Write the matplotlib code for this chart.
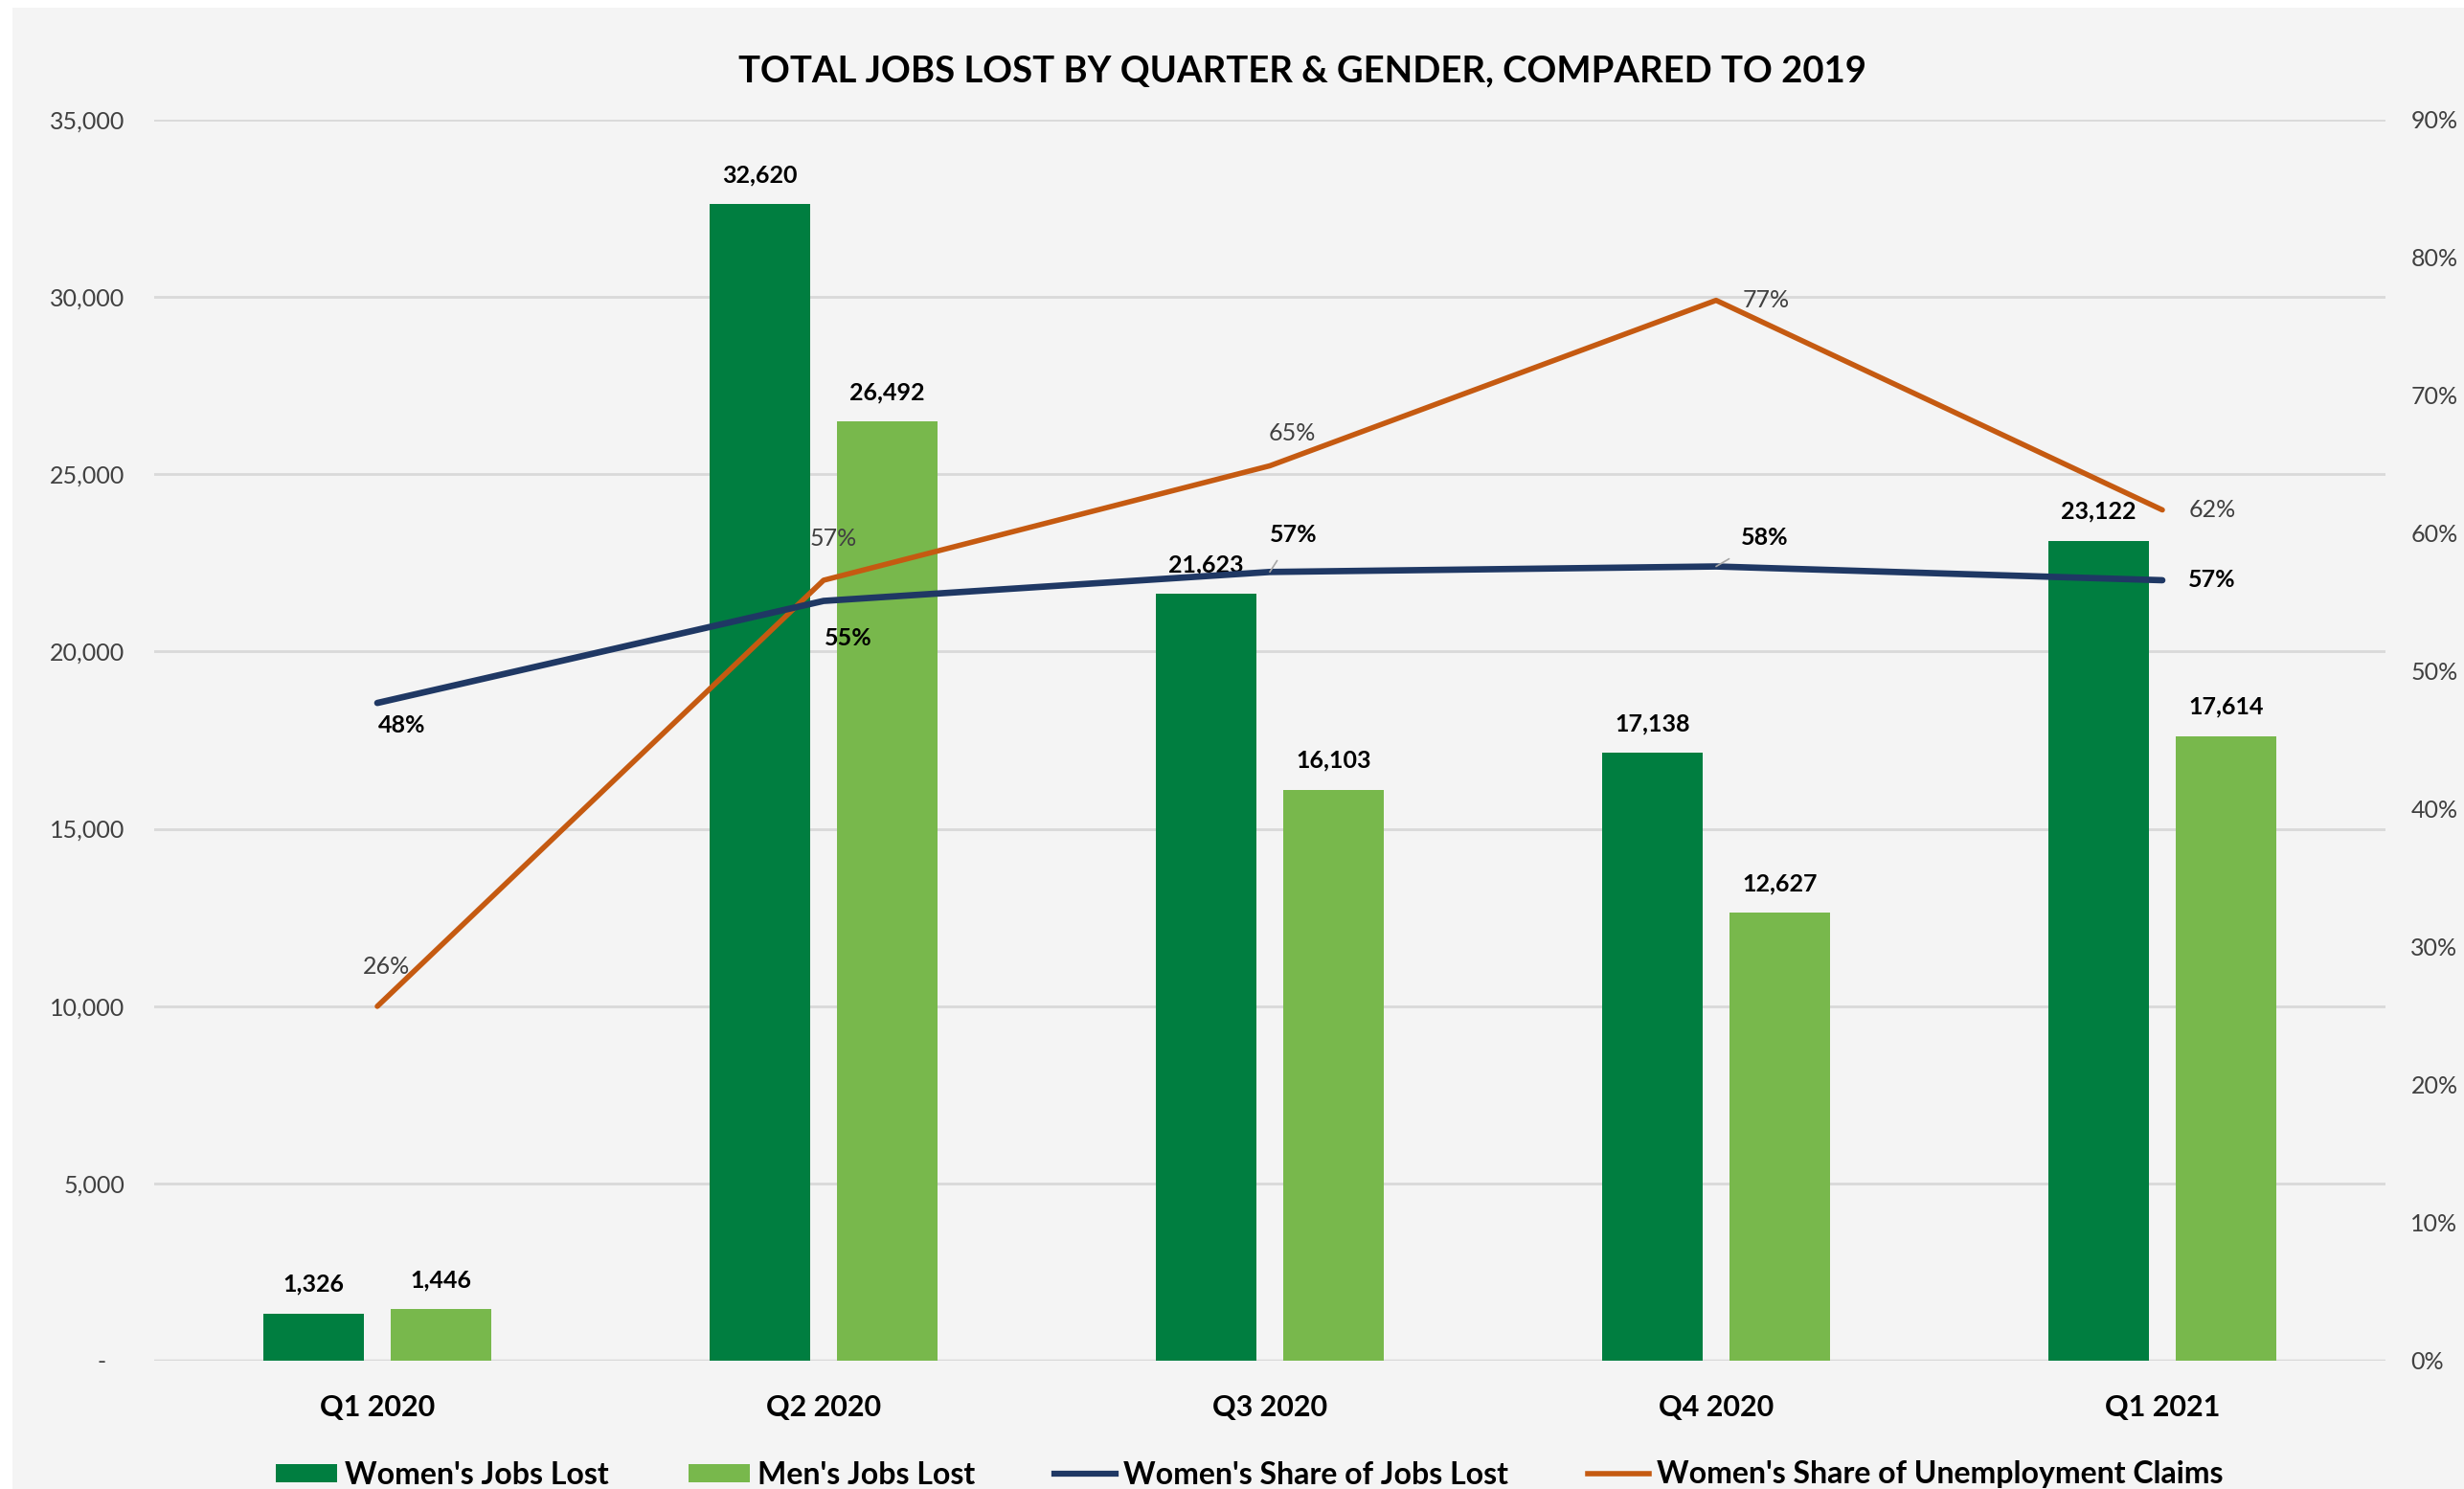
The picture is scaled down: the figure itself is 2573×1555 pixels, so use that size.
import matplotlib
matplotlib.use("Agg")
import matplotlib.pyplot as plt
from matplotlib.patches import Rectangle, Patch
from matplotlib.lines import Line2D
from matplotlib.ticker import FuncFormatter, MultipleLocator
import numpy as np

plt.rcParams['font.family'] = ['Lato', 'DejaVu Sans']

categories = ["Q1 2020", "Q2 2020", "Q3 2020", "Q4 2020", "Q1 2021"]
women_jobs = [1326, 32620, 21623, 17138, 23122]
men_jobs = [1446, 26492, 16103, 12627, 17614]
women_share_jobs = [0.477, 0.551, 0.572, 0.576, 0.566]
women_share_claims = [0.257, 0.566, 0.649, 0.769, 0.617]
title = "TOTAL JOBS LOST BY QUARTER & GENDER, COMPARED TO 2019"

C_DARK = "#007E40"
C_LIGHT = "#78B84C"
C_BLUE = "#1F3864"
C_ORANGE = "#C55A11"
C_BG = "#F4F4F4"
C_GRID = "#D9D9D9"
C_TXT = "#404040"

W, H = 2573, 1555
fig = plt.figure(figsize=(W / 100, H / 100), dpi=100, facecolor="white")
fig.patches.append(Rectangle((13 / W, 0), 1, 1 - 8 / H, transform=fig.transFigure,
                             facecolor=C_BG, edgecolor="none", zorder=-10))

left, right, top, bottom = 161 / W, 2491 / W, 1 - 125 / H, 1 - 1421 / H
ax = fig.add_axes([left, bottom, right - left, top - bottom])
ax.set_facecolor("none")
ax2 = ax.twinx()
ax2.set_facecolor("none")

x = np.arange(len(categories))
bw = 0.225
off = 0.1425
b1 = ax.bar(x - off, women_jobs, bw, color=C_DARK, zorder=2)
b2 = ax.bar(x + off, men_jobs, bw, color=C_LIGHT, zorder=2)

ax.set_xlim(-0.5, len(categories) - 0.5)
ax.set_ylim(0, 35000)
ax.yaxis.set_major_locator(MultipleLocator(5000))
ax.yaxis.set_major_formatter(FuncFormatter(lambda v, p: "-   " if v == 0 else f"{int(v):,}"))
ax.grid(axis="y", color=C_GRID, linewidth=2, zorder=0)
ax.set_axisbelow(True)
for s in ax.spines.values():
    s.set_visible(False)
for s in ax2.spines.values():
    s.set_visible(False)
ax.axhline(0, color=C_GRID, linewidth=2.5, zorder=1)
ax.tick_params(axis="y", length=0, pad=22, labelsize=18, labelcolor=C_TXT)
ax.set_xticks(x)
ax.set_xticklabels(categories, fontsize=22, fontweight="bold", color="black")
ax.tick_params(axis="x", length=0, pad=25)

ax2.set_ylim(0, 0.9)
ax2.yaxis.set_major_locator(MultipleLocator(0.1))
ax2.yaxis.set_major_formatter(FuncFormatter(lambda v, p: f"{v:.0%}"))
ax2.tick_params(axis="y", length=0, pad=19, labelsize=18, labelcolor=C_TXT)

ax2.plot(x, women_share_claims, color=C_ORANGE, linewidth=4, solid_capstyle="round", zorder=3)
ax2.plot(x, women_share_jobs, color=C_BLUE, linewidth=4.8, solid_capstyle="round", zorder=4)

# bar labels
for bars, vals in ((b1, women_jobs), (b2, men_jobs)):
    for rect, v in zip(bars, vals):
        ax.annotate(f"{v:,}", (rect.get_x() + rect.get_width() / 2, v),
                    xytext=(0, 22), textcoords="offset points", ha="center", va="center",
                    fontsize=18, fontweight="bold", color="black", zorder=6)

# line labels (offsets in pixels -> points)
k = 0.72
claims_off = [(10, 41), (10, 43), (23, 34), (52, 0), (52, 0)]
for xi, v, (dx, dy) in zip(x, women_share_claims, claims_off):
    ax2.annotate(f"{v:.0%}", (xi, v), xytext=(dx * k, dy * k), textcoords="offset points",
                 ha="center", va="center", fontsize=18, color=C_TXT, zorder=6)
jobs_off = [(26, -23), (26, -39), (25, 39), (51, 30), (52, 0)]
leader = [False, False, True, True, False]
for xi, v, (dx, dy), ld in zip(x, women_share_jobs, jobs_off, leader):
    props = dict(arrowstyle="-", color="#A6A6A6", lw=1.2, shrinkA=11, shrinkB=0) if ld else None
    ax2.annotate(f"{v:.0%}", (xi, v), xytext=(dx * k, dy * k), textcoords="offset points",
                 ha="center", va="center", fontsize=18, fontweight="bold", color="black",
                 arrowprops=props, zorder=6)

fig.text(1360 / W, 1 - 74 / H, title, ha="center", va="center", fontsize=27.5,
         fontweight="bold", color="black")

handles = [Patch(facecolor=C_DARK), Patch(facecolor=C_LIGHT),
           Line2D([], [], color=C_BLUE, lw=4.5), Line2D([], [], color=C_ORANGE, lw=4)]
labels = ["Women's Jobs Lost", "Men's Jobs Lost", "Women's Share of Jobs Lost",
          "Women's Share of Unemployment Claims"]
fig.legend(handles, labels, loc="center", bbox_to_anchor=(1305 / W, 1 - 1540 / H), ncol=4,
           frameon=False, prop=dict(size=23, weight="bold"), handlelength=2.0,
           handleheight=0.55, handletextpad=0.25, columnspacing=2.6)

fig.savefig("out.png", dpi=100, facecolor="white")
